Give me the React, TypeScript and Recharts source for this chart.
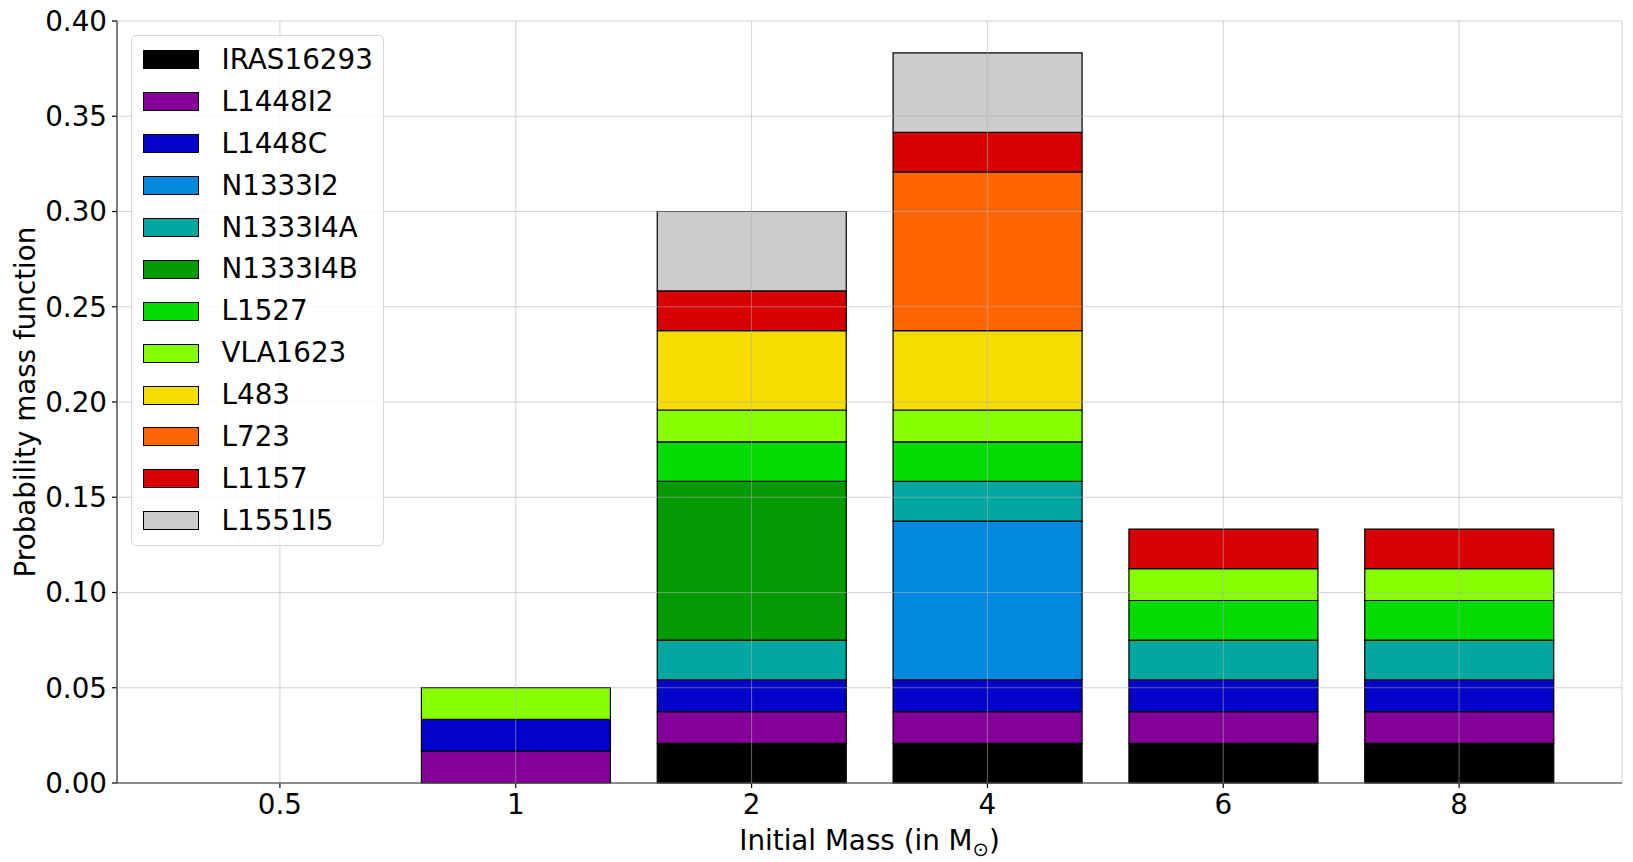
import React from "react";
import {
  BarChart,
  Bar,
  XAxis,
  YAxis,
  CartesianGrid,
  Label,
} from "recharts";

const masses = ["0.5", "1", "2", "4", "6", "8"];

const IRAS16293 = [0, 0, 0.0208, 0.0208, 0.0208, 0.0208];
const L1448I2 = [0, 0.0167, 0.0167, 0.0167, 0.0167, 0.0167];
const L1448C = [0, 0.0167, 0.0167, 0.0167, 0.0167, 0.0167];
const N1333I2 = [0, 0, 0, 0.0833, 0, 0];
const N1333I4A = [0, 0, 0.0208, 0.0208, 0.0208, 0.0208];
const N1333I4B = [0, 0, 0.0833, 0, 0, 0];
const L1527 = [0, 0, 0.0208, 0.0208, 0.0208, 0.0208];
const VLA1623 = [0, 0.0167, 0.0167, 0.0167, 0.0167, 0.0167];
const L483 = [0, 0, 0.0417, 0.0417, 0, 0];
const L723 = [0, 0, 0, 0.0833, 0, 0];
const L1157 = [0, 0, 0.0208, 0.0208, 0.0208, 0.0208];
const L1551I5 = [0, 0, 0.0417, 0.0417, 0, 0];

const yTicks = [0, 0.05, 0.1, 0.15, 0.2, 0.25, 0.3, 0.35, 0.4];

const series = [
  { name: "IRAS16293", values: IRAS16293, color: "#000000" },
  { name: "L1448I2", values: L1448I2, color: "#850099" },
  { name: "L1448C", values: L1448C, color: "#0303c9" },
  { name: "N1333I2", values: N1333I2, color: "#0288de" },
  { name: "N1333I4A", values: N1333I4A, color: "#02a8a0" },
  { name: "N1333I4B", values: N1333I4B, color: "#039a03" },
  { name: "L1527", values: L1527, color: "#02dc02" },
  { name: "VLA1623", values: VLA1623, color: "#88ff00" },
  { name: "L483", values: L483, color: "#f7dc00" },
  { name: "L723", values: L723, color: "#ff6600" },
  { name: "L1157", values: L1157, color: "#d80000" },
  { name: "L1551I5", values: L1551I5, color: "#cccccc" },
];

const data = masses.map((mass, i) => {
  const row: Record<string, any> = { mass };
  series.forEach((s) => {
    row[s.name] = s.values[i];
  });
  return row;
});

const FONT = "DejaVu Sans";
const FS = 27.78;
const tickStyle = { fill: "#000", fontSize: FS, fontFamily: FONT };

const XLabel = ({ viewBox }: any) => {
  const { x, y, width, height } = viewBox;
  return (
    <text
      x={x + width / 2}
      y={y + height - 12}
      textAnchor="middle"
      fontSize={FS}
      fontFamily={FONT}
      fill="#000"
    >
      Initial Mass (in M
      <tspan dy={6} fontSize={19.5}>⊙</tspan>
      <tspan dy={-6}>)</tspan>
    </text>
  );
};

const YLabel = ({ viewBox }: any) => {
  const { y, height } = viewBox;
  const cx = 25;
  const cy = y + height / 2;
  return (
    <text
      x={cx}
      y={cy}
      transform={`rotate(-90, ${cx}, ${cy})`}
      textAnchor="middle"
      dominantBaseline="central"
      fontSize={FS}
      fontFamily={FONT}
      fill="#000"
    >
      Probability mass function
    </text>
  );
};

function ChartLegend() {
  return (
    <div
      style={{
        position: "absolute",
        left: 131,
        top: 35,
        width: 253,
        height: 511,
        border: "1px solid #d6d6d6",
        borderRadius: 5,
        background: "rgba(255,255,255,0.8)",
        paddingTop: 3,
        paddingLeft: 10.5,
        boxSizing: "border-box",
        fontFamily: FONT,
        fontSize: FS,
      }}
    >
      {series.map((s) => (
        <div key={s.name} style={{ display: "flex", alignItems: "center", height: 41.9 }}>
          <div
            style={{
              width: 56,
              height: 19,
              background: s.color,
              border: "1px solid #000",
              boxSizing: "border-box",
            }}
          />
          <span style={{ marginLeft: 23, lineHeight: "28px" }}>{s.name}</span>
        </div>
      ))}
    </div>
  );
}

export default function App() {
  return (
    <div style={{ position: "relative", width: 1633, height: 862, background: "#fff" }}>
      <style>{"body{margin:0}"}</style>
      <BarChart
        width={1633}
        height={862}
        data={data}
        margin={{ top: 21, right: 11, left: 0, bottom: 0 }}
        barCategoryGap="10%"
      >
        <XAxis
          dataKey="mass"
          height={79}
          padding={{ left: 45, right: 45 }}
          tick={tickStyle}
          tickSize={5}
          tickMargin={6}
          axisLine={{ stroke: "#000", strokeWidth: 1.2 }}
          tickLine={{ stroke: "#000", strokeWidth: 1.2 }}
        >
          <Label content={<XLabel />} />
        </XAxis>
        <XAxis
          xAxisId="top"
          dataKey="mass"
          orientation="top"
          height={0}
          tick={false}
          tickLine={false}
          axisLine={{ stroke: "#000", strokeWidth: 1.2 }}
        />
        <YAxis
          type="number"
          domain={[0, 0.4]}
          ticks={yTicks}
          interval={0}
          width={117}
          tickFormatter={(v: number) => v.toFixed(2)}
          tick={tickStyle}
          tickSize={5}
          tickMargin={5}
          axisLine={{ stroke: "#000", strokeWidth: 1.2 }}
          tickLine={{ stroke: "#000", strokeWidth: 1.2 }}
        >
          <Label content={<YLabel />} />
        </YAxis>
        <YAxis
          yAxisId="right"
          orientation="right"
          width={0}
          domain={[0, 0.4]}
          tick={false}
          tickLine={false}
          axisLine={{ stroke: "#000", strokeWidth: 1.2 }}
        />
        {series.map((s) => (
          <Bar
            key={s.name}
            dataKey={s.name}
            stackId="a"
            fill={s.color}
            stroke="#000"
            strokeWidth={1.2}
            isAnimationActive={false}
          />
        ))}
        <CartesianGrid stroke="#b0b0b0" strokeOpacity={0.55} strokeWidth={1} zIndex={1000} />
      </BarChart>
      <ChartLegend />
    </div>
  );
}
